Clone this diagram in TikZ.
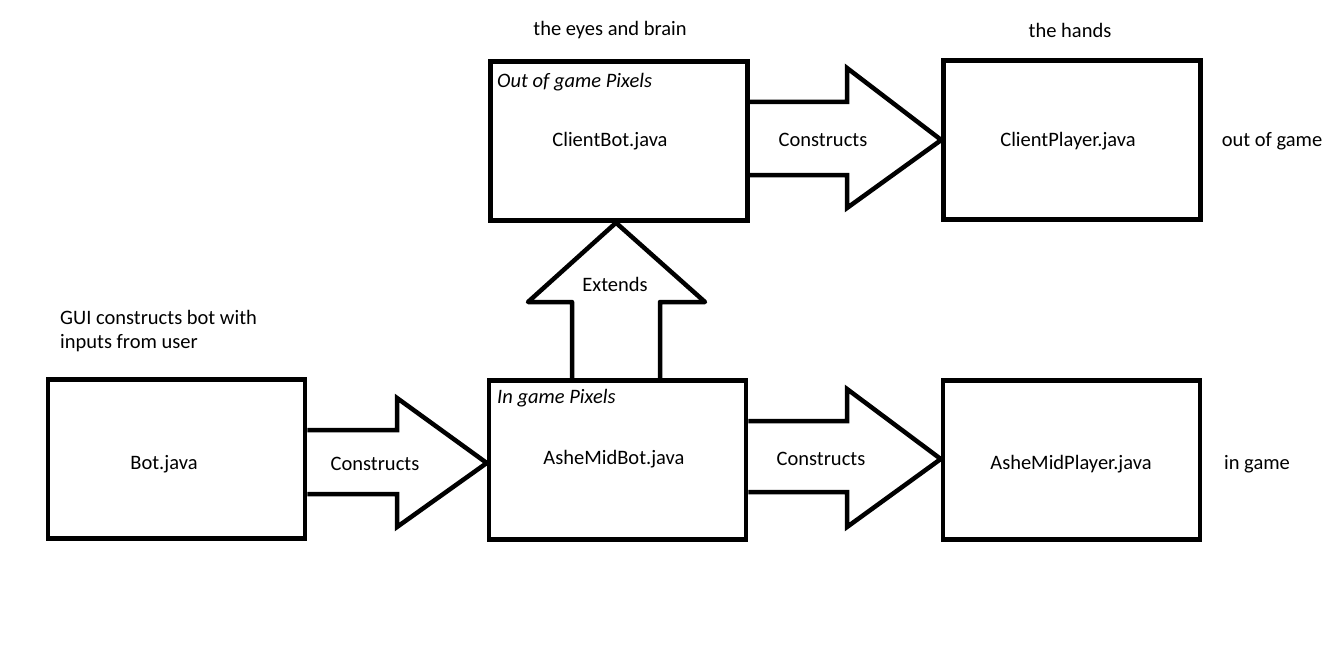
\documentclass[tikz,border=0pt]{standalone}
\usepackage{fontspec}
\setmainfont{Carlito}
\begin{document}
\begin{tikzpicture}[x=1pt,y=-1pt,
  box/.style={draw,line width=4.5pt,rectangle,minimum width=257pt,minimum height=159pt,inner sep=0pt},
  blk/.style={draw,line width=4.5pt,line join=miter},
  lbl/.style={inner sep=0pt,font=\fontsize{20.5}{26}\selectfont},
  hdr/.style={inner sep=0pt,anchor=west,font=\fontsize{20.5}{26}\selectfont\itshape}]
\useasboundingbox (0,0) rectangle (1344,666);
% boxes
\node[box] (cb) at (619,141) {};
\node[box] (cp) at (1072,140) {};
\node[box] (amb) at (617.5,460) {};
\node[box] (bot) at (176.5,459) {};
\node[box] (amp) at (1071.5,460) {};
% box texts
\node[lbl] (cbt) at (610,141) {ClientBot.java};
\node[lbl] (cpt) at (1068,141) {ClientPlayer.java};
\node[lbl] (ambt) at (614,459) {AsheMidBot.java};
\node[lbl] (bott) at (164,464) {Bot.java};
\node[lbl] (ampt) at (1071,464) {AsheMidPlayer.java};
\node[hdr] (cbh) at (497,82) {Out of game Pixels};
\node[hdr] (ambh) at (497,398) {In game Pixels};
% block arrows
\draw[blk] (cb.east |- 0,102) -- (847,102) -- (847,68) -- (cp.west) -- (847,208) -- (847,175) -- (cb.east |- 0,175);
\draw[blk] (amb.east |- 0,421) -- (847,421) -- (847,389) -- (amp.west |- 0,459) -- (847,527) -- (847,492) -- (amb.east |- 0,492);
\draw[blk] (bot.east |- 0,430) -- (397,430) -- (397,398) -- (amb.west |- 0,463) -- (397,527) -- (397,494) -- (bot.east |- 0,494);
\draw[blk,line join=round] (572,0 |- amb.north) -- (572,302) -- (528,302) -- (cb.south -| 616,0) -- (705,302) -- (660,302) -- (660,0 |- amb.north);
% arrow labels
\node[lbl] (c1) at (823,140) {Constructs};
\node[lbl] (c2) at (821,459) {Constructs};
\node[lbl] (c3) at (375,464) {Constructs};
\node[lbl] (ex) at (615,284) {Extends};
% annotations
\node[lbl] (eyes) at (610,30) {the eyes and brain};
\node[lbl] (hands) at (1070,30) {the hands};
\node[lbl] (oog) at (1272,141) {out of game};
\node[lbl] (ig) at (1257,464) {in game};
\node[lbl,anchor=west] (gui1) at (60,317) {GUI constructs bot with};
\node[lbl,anchor=west] (gui2) at (60,343) {inputs from user};
\end{tikzpicture}
\end{document}
